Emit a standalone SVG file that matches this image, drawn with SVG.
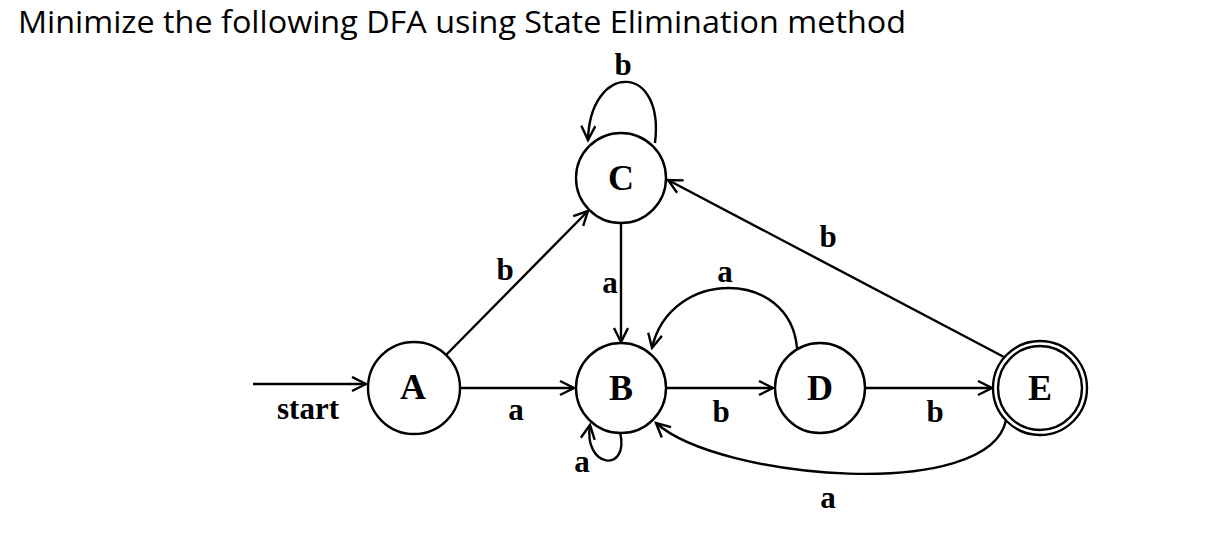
<svg xmlns="http://www.w3.org/2000/svg" width="1212" height="550" viewBox="0 0 1212 550">
<defs>
<style>
.st{fill:#fff;stroke:#000;stroke-width:2.4}
.e{fill:none;stroke:#000;stroke-width:2.4}
.nl{font-family:"Liberation Serif",serif;font-weight:bold;font-size:36px;text-anchor:middle}
.lb{font-family:"Liberation Serif",serif;font-weight:bold;font-size:31px;text-anchor:middle}
</style>
<marker id="ar" markerUnits="userSpaceOnUse" markerWidth="18" markerHeight="18" refX="15" refY="8" orient="auto">
<path d="M1,1 L15,8 L1,15" fill="none" stroke="#000" stroke-width="2.4"/>
</marker>
</defs>
<rect width="1212" height="550" fill="#fff"/>
<text x="18" y="33" font-family="Open Sans, sans-serif" font-size="31" textLength="888" lengthAdjust="spacingAndGlyphs">Minimize the following DFA using State Elimination method</text>
<g id="connectors">
<line class="e" x1="253" y1="384" x2="366" y2="384" marker-end="url(#ar)"/>
<line class="e" x1="460" y1="388" x2="574" y2="388" marker-end="url(#ar)"/>
<line class="e" x1="446" y1="355" x2="588" y2="211" marker-end="url(#ar)"/>
<line class="e" x1="621" y1="224" x2="621" y2="342" marker-end="url(#ar)"/>
<path class="e" d="M655,143 C665,62 590,62 588,140" marker-end="url(#ar)"/>
<line class="e" x1="667" y1="388" x2="773" y2="388" marker-end="url(#ar)"/>
<path class="e" d="M797,348 C790,268 670,268 652,348" marker-end="url(#ar)"/>
<line class="e" x1="866" y1="388" x2="992" y2="388" marker-end="url(#ar)"/>
<line class="e" x1="1004" y1="357" x2="668" y2="180" marker-end="url(#ar)"/>
<path class="e" d="M1006,420 C990,502 720,480 656,423" marker-end="url(#ar)"/>
<path class="e" d="M620,432 C630,474 583,468 590,425" marker-end="url(#ar)"/>
<text class="lb" x="308" y="419">start</text>
<text class="lb" x="516" y="420">a</text>
<text class="lb" x="505" y="280">b</text>
<text class="lb" x="610" y="293">a</text>
<text class="lb" x="623" y="75">b</text>
<text class="lb" x="721" y="422">b</text>
<text class="lb" x="725" y="282">a</text>
<text class="lb" x="935" y="422">b</text>
<text class="lb" x="828" y="247">b</text>
<text class="lb" x="828" y="508">a</text>
<text class="lb" x="582" y="472">a</text>
</g>
<g id="node-A"><circle class="st" cx="414" cy="388" r="46"/><text class="nl" x="413" y="399">A</text></g>
<g id="node-B"><circle class="st" cx="621" cy="388" r="45"/><text class="nl" x="621" y="400">B</text></g>
<g id="node-C"><circle class="st" cx="621" cy="178" r="45"/><text class="nl" x="621" y="190">C</text></g>
<g id="node-D"><circle class="st" cx="820" cy="388" r="45"/><text class="nl" x="820" y="400">D</text></g>
<g id="node-E"><circle class="st" cx="1040" cy="388" r="47"/><circle class="st" cx="1040" cy="388" r="42"/><text class="nl" x="1040" y="400">E</text></g>
</svg>
